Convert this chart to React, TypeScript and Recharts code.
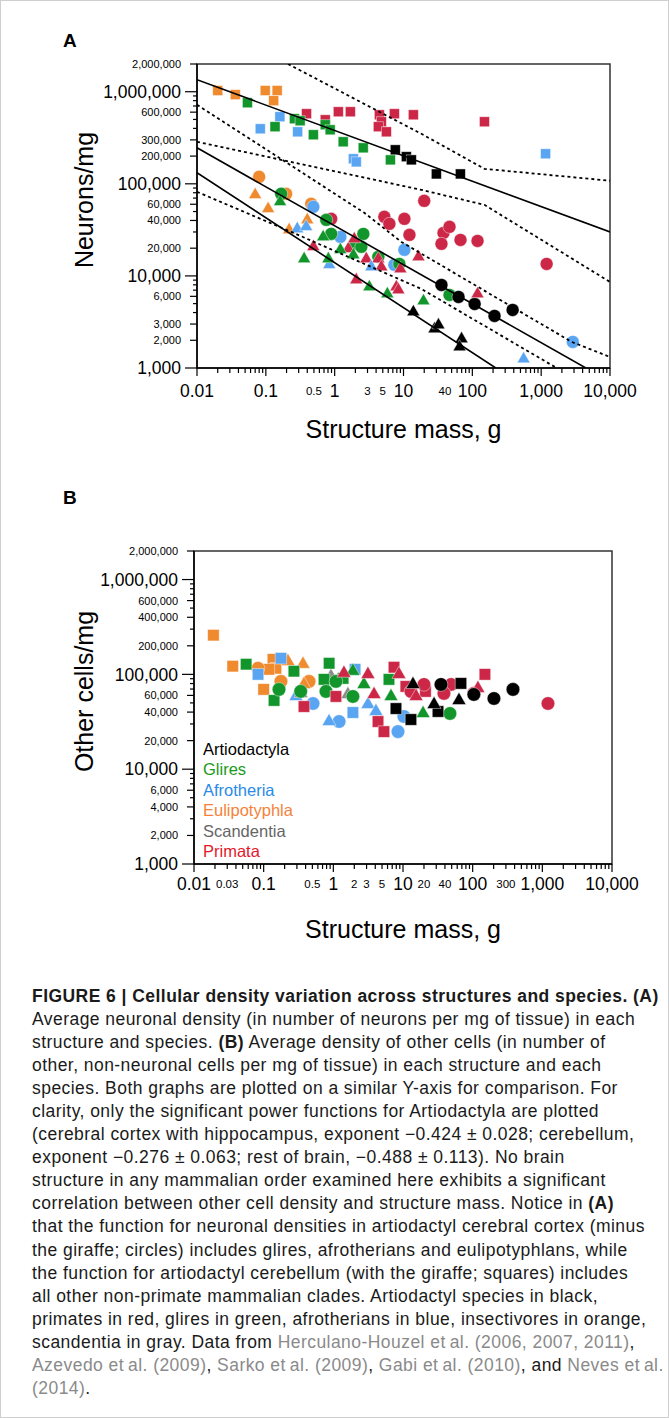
import React from 'react';
import { ScatterChart, Scatter, XAxis, YAxis, ReferenceArea, Legend } from 'recharts';

type Pt = [number, number];

// ---------- Panel A: neurons per mg against structure mass (g) ----------
// squares = cerebellum, circles = cerebral cortex, triangles = rest of brain
const aCerebellumArtiodactyla: Pt[] = [[7.6, 234000], [11, 197000], [13, 182000], [30, 128000], [67, 128000]];
const aCerebellumGlires: Pt[] = [[0.054, 759000], [0.136, 417000], [0.26, 509000], [0.315, 484000], [0.49, 341000], [0.73, 438000], [0.86, 386000], [1.33, 286000], [2.6, 246000], [6.45, 182000]];
const aCerebellumAfrotheria: Pt[] = [[0.083, 396000], [0.16, 535000], [0.29, 367000], [1.87, 187000], [2.06, 173000], [1160, 212000]];
const aCerebellumEulipotyphla: Pt[] = [[0.02, 1030000], [0.036, 930000], [0.098, 1030000], [0.146, 1030000], [0.13, 800000]];
const aCerebellumPrimata: Pt[] = [[0.39, 577000], [0.73, 496000], [1.13, 606000], [1.69, 606000], [4.46, 562000], [4.77, 472000], [4.31, 417000], [5.64, 367000], [7.37, 577000], [13.9, 562000], [150, 472000]];

const aCortexArtiodactyla: Pt[] = [[35.6, 7980], [63, 5910], [108, 4960], [210, 3680], [385, 4270]];
const aCortexGlires: Pt[] = [[0.167, 77900], [0.755, 40600], [0.89, 28600], [2.61, 28600], [1.93, 22300], [2.44, 20700], [4.31, 16100], [8.71, 13500], [46.6, 6210]];
const aCortexAfrotheria: Pt[] = [[0.49, 56200], [1.21, 26500], [10.3, 19200], [7.37, 13200], [2880, 1920]];
const aCortexEulipotyphla: Pt[] = [[0.08, 119000], [0.197, 77900], [0.456, 60600]];
const aCortexPrimata: Pt[] = [[0.89, 41700], [5.27, 43800], [6.24, 36800], [10.3, 41700], [12.2, 27900], [20, 65300], [38.1, 29300], [46.6, 34100], [35.6, 22300], [67.3, 24600], [119, 24000], [1200, 13500]];

const aRestArtiodactyla: Pt[] = [[13.9, 4060], [28.2, 2650], [32.2, 2930], [69.7, 2070], [65.2, 1690]];
const aRestGlires: Pt[] = [[0.161, 63700], [0.36, 15300], [0.81, 15300], [1.21, 19200], [1.87, 16900], [3.19, 7590], [5.83, 6370], [0.68, 26500], [19.5, 5350]];
const aRestAfrotheria: Pt[] = [[0.286, 32400], [0.386, 34100], [0.834, 13200], [3.41, 12500], [556, 1250]];
const aRestEulipotyphla: Pt[] = [[0.07, 75900], [0.108, 53500], [0.218, 31600], [0.4, 40600]];
const aRestPrimata: Pt[] = [[0.49, 20700], [2.06, 9050], [2.88, 15300], [4.31, 15300], [4.77, 12500], [7.88, 7590], [8.43, 7050], [9.02, 11900], [16.5, 16100], [1.58, 19700], [1.93, 25200], [119, 6370]];

// Artiodactyla power functions (solid) and their confidence bands (dotted)
const cerebellumFit: Pt[] = [[0.01, 1350000], [10000, 30000]];
const cortexFit: Pt[] = [[0.01, 246000], [4460, 1000]];
const restFit: Pt[] = [[0.01, 132000], [219, 1000]];
const cerebellumUpperBand: Pt[] = [[0.21, 2000000], [18.2, 349000], [150, 145500], [10000, 108000]];
const cerebellumLowerBand: Pt[] = [[0.01, 286000], [18.2, 86000], [150, 59100], [10000, 8600]];
const cortexUpperBand: Pt[] = [[0.01, 722000], [2.7, 48400], [9.3, 23400], [2780, 1920], [10000, 1318]];
const cortexLowerBand: Pt[] = [[0.01, 81800], [0.233, 30100], [18.2, 7220], [1680, 1000]];

// ---------- Panel B: other cells per mg against structure mass (g) ----------
const bCerebellumArtiodactyla: Pt[] = [[7.93, 43600], [67.9, 80300], [13, 33400], [31.8, 40600]];
const bCerebellumGlires: Pt[] = [[0.056, 128000], [0.141, 53100], [0.87, 131000], [1.38, 90700], [0.735, 88500], [6.29, 88500], [0.272, 108000]];
const bCerebellumAfrotheria: Pt[] = [[0.083, 100000], [0.177, 148000], [2.05, 113000], [1.91, 39600]];
const bCerebellumEulipotyphla: Pt[] = [[0.019, 259000], [0.036, 122000], [0.1, 69400], [0.136, 144000], [0.15, 116000], [0.119, 113000]];
const bCerebellumPrimata: Pt[] = [[0.379, 45800], [1.09, 58500], [7.43, 119000], [4.38, 31800], [5.33, 24900], [150, 100000], [11, 74600], [21, 66100]];

const bCortexArtiodactyla: Pt[] = [[35.1, 78300], [104, 61400], [202, 55700], [379, 69400]];
const bCortexGlires: Pt[] = [[0.166, 69400], [0.785, 66100], [1.91, 58500], [47.2, 38700], [0.34, 66100], [1.09, 84300]];
const bCortexAfrotheria: Pt[] = [[0.511, 49300], [1.21, 31800], [8.47, 24900], [10.3, 36000]];
const bCortexEulipotyphla: Pt[] = [[0.083, 116000], [0.177, 84300], [0.448, 84300]];
const bCortexPrimata: Pt[] = [[20, 78300], [48.9, 78300], [38.7, 63000], [104, 63000], [1205, 49300], [13, 66100]];

const bRestArtiodactyla: Pt[] = [[13.9, 78300], [27.9, 48200], [63.6, 53100]];
const bRestGlires: Pt[] = [[1.91, 108000], [2.75, 78300], [6.73, 58500], [19.4, 38700]];
const bRestAfrotheria: Pt[] = [[0.291, 58500], [0.867, 31800], [3.14, 48200], [4.09, 40600]];
const bRestEulipotyphla: Pt[] = [[0.223, 137000], [0.367, 128000], [0.379, 78300]];
const bRestScandentia: Pt[] = [[0.344, 63000], [0.925, 95300], [1.62, 61400]];
const bRestPrimata: Pt[] = [[1.42, 103000], [3.14, 100000], [8.75, 100000], [3.84, 61400], [15.4, 58500], [119, 71100]];

// ---------- axes ----------
const xMajorLabels = [0.01, 0.1, 1, 10, 100, 1000, 10000];
const xMinorLabelsA = [0.5, 3, 5, 40];
const xMinorLabelsB = [0.03, 0.5, 2, 3, 5, 20, 40, 300];
const yMajorLabels = [1000, 10000, 100000, 1000000];
const yMinorLabelsA = [2000, 3000, 6000, 20000, 40000, 60000, 200000, 300000, 600000, 2000000];
const yMinorLabelsB = [2000, 4000, 6000, 20000, 40000, 60000, 200000, 400000, 600000, 2000000];
const multipliers = [1, 2, 3, 4, 5, 6, 7, 8, 9];
const xTicks = [0.01, 0.1, 1, 10, 100, 1000].flatMap((d) => multipliers.map((k) => d * k)).concat([10000]);
const yTicks = [1000, 10000, 100000, 1000000].flatMap((d) => multipliers.map((k) => d * k)).filter((v) => v <= 2000000);

const orderNames = ['Artiodactyla', 'Glires', 'Afrotheria', 'Eulipotyphla', 'Scandentia', 'Primata'];
const orderTextColors = ['#000000', '#1a9a1a', '#2a8be6', '#f5823a', '#666666', '#e3182c'];

const C = { black: '#000000', green: '#12962b', blue: '#5aa5f2', orange: '#ef8a2f', gray: '#8a8a8a', red: '#cc2747' };

const FONT = '"Liberation Sans", Arial, Helvetica, sans-serif';

const toPts = (arr: Pt[]) => arr.map(([x, y]) => ({ x, y }));
const near = (v: number, list: number[]) => list.find((l) => Math.abs(v / l - 1) < 1e-6);
const fmt = (v: number) => v.toLocaleString('en-US', { maximumFractionDigits: 2 });

// ---------- marker shapes ----------
const squareShape = (color: string, s: number) => (p: any) =>
  p.cx == null ? <g /> : (
    <rect x={p.cx - s / 2} y={p.cy - s / 2} width={s} height={s} fill={color} stroke="#fff" strokeOpacity={0.55} strokeWidth={0.8} />
  );
const circleShape = (color: string, r: number) => (p: any) =>
  p.cx == null ? <g /> : <circle cx={p.cx} cy={p.cy} r={r} fill={color} stroke="#fff" strokeOpacity={0.55} strokeWidth={0.8} />;
const triangleShape = (color: string, s: number) => (p: any) => {
  if (p.cx == null) return <g />;
  const h = s * 0.87;
  const pts = `${p.cx},${p.cy - (2 * h) / 3} ${p.cx - s / 2},${p.cy + h / 3} ${p.cx + s / 2},${p.cy + h / 3}`;
  return <polygon points={pts} fill={color} stroke="#fff" strokeOpacity={0.55} strokeWidth={0.8} />;
};
const noShape = () => <g />;

// ---------- ticks ----------
const makeYTick = (minorLabels: number[]) => (props: any) => {
  const { x, y, payload } = props;
  const v = payload.value;
  const major = near(v, yMajorLabels);
  const minor = major === undefined ? near(v, minorLabels) : undefined;
  const lab = major ?? minor;
  const len = major !== undefined ? 12 : minor !== undefined ? 7 : 4;
  return (
    <g>
      <line x1={x} y1={y} x2={x - len} y2={y} stroke="#000" strokeWidth={1.2} />
      {lab !== undefined && (
        <text x={x - 16} y={y} dy="0.36em" textAnchor="end" fontSize={major !== undefined ? 17.5 : 11} fontFamily={FONT} fill="#000">
          {fmt(lab)}
        </text>
      )}
    </g>
  );
};

const makeXTick = (minorLabels: number[], labelGap: number) => (props: any) => {
  const { x, y, payload } = props;
  const v = payload.value;
  const major = near(v, xMajorLabels);
  const minor = major === undefined ? near(v, minorLabels) : undefined;
  const lab = major ?? minor;
  const len = major !== undefined ? 8 : 5;
  return (
    <g>
      <line x1={x} y1={y} x2={x} y2={y + len} stroke="#000" strokeWidth={1.2} />
      {lab !== undefined && (
        <text x={x} y={y + labelGap} dy="0.36em" textAnchor="middle" fontSize={major !== undefined ? 17.5 : 11.5} fontFamily={FONT} fill="#000">
          {fmt(lab)}
        </text>
      )}
    </g>
  );
};

const XTitle = (props: any) => {
  const { viewBox, text, gap } = props;
  return (
    <text x={viewBox.x + viewBox.width / 2} y={viewBox.y + gap} textAnchor="middle" fontSize={25} fontFamily={FONT} fill="#000">
      {text}
    </text>
  );
};
const YTitle = (props: any) => {
  const { viewBox, text, left, shift } = props;
  const cy = viewBox.y + viewBox.height / 2 + shift;
  return (
    <text x={left} y={cy} transform={`rotate(-90, ${left}, ${cy})`} textAnchor="middle" fontSize={25} fontFamily={FONT} fill="#000">
      {text}
    </text>
  );
};

const OrderLegend = () => (
  <div style={{ fontFamily: FONT, fontSize: 16.5, lineHeight: '20.4px', whiteSpace: 'nowrap' }}>
    {orderNames.map((n, i) => (
      <div key={n} style={{ color: orderTextColors[i] }}>{n}</div>
    ))}
  </div>
);

type Series = { data: Pt[]; shape: (p: any) => any };

const seriesA = (): Series[] => [
  { data: aCerebellumPrimata, shape: squareShape(C.red, 10) },
  { data: aCerebellumEulipotyphla, shape: squareShape(C.orange, 10) },
  { data: aCerebellumAfrotheria, shape: squareShape(C.blue, 10) },
  { data: aCerebellumGlires, shape: squareShape(C.green, 10) },
  { data: aCerebellumArtiodactyla, shape: squareShape(C.black, 10) },
  { data: aCortexPrimata, shape: circleShape(C.red, 6.5) },
  { data: aCortexEulipotyphla, shape: circleShape(C.orange, 6.5) },
  { data: aCortexAfrotheria, shape: circleShape(C.blue, 6.5) },
  { data: aCortexGlires, shape: circleShape(C.green, 6.5) },
  { data: aCortexArtiodactyla, shape: circleShape(C.black, 6.5) },
  { data: aRestPrimata, shape: triangleShape(C.red, 13) },
  { data: aRestEulipotyphla, shape: triangleShape(C.orange, 13) },
  { data: aRestAfrotheria, shape: triangleShape(C.blue, 13) },
  { data: aRestGlires, shape: triangleShape(C.green, 13) },
  { data: aRestArtiodactyla, shape: triangleShape(C.black, 13) },
];

const seriesB = (): Series[] => [
  { data: bCerebellumEulipotyphla, shape: squareShape(C.orange, 11.5) },
  { data: bCortexEulipotyphla, shape: circleShape(C.orange, 6.8) },
  { data: bRestEulipotyphla, shape: triangleShape(C.orange, 14) },
  { data: bCerebellumAfrotheria, shape: squareShape(C.blue, 11.5) },
  { data: bCortexAfrotheria, shape: circleShape(C.blue, 6.8) },
  { data: bRestAfrotheria, shape: triangleShape(C.blue, 14) },
  { data: bRestScandentia, shape: triangleShape(C.gray, 14) },
  { data: bCerebellumGlires, shape: squareShape(C.green, 11.5) },
  { data: bCortexGlires, shape: circleShape(C.green, 6.8) },
  { data: bRestGlires, shape: triangleShape(C.green, 14) },
  { data: bCerebellumPrimata, shape: squareShape(C.red, 11.5) },
  { data: bCortexPrimata, shape: circleShape(C.red, 6.8) },
  { data: bRestPrimata, shape: triangleShape(C.red, 14) },
  { data: bCerebellumArtiodactyla, shape: squareShape(C.black, 11.5) },
  { data: bCortexArtiodactyla, shape: circleShape(C.black, 6.8) },
  { data: bRestArtiodactyla, shape: triangleShape(C.black, 14) },
];

const fitLines: { data: Pt[]; dashed: boolean }[] = [
  { data: cerebellumUpperBand, dashed: true },
  { data: cerebellumLowerBand, dashed: true },
  { data: cortexUpperBand, dashed: true },
  { data: cortexLowerBand, dashed: true },
  { data: cerebellumFit, dashed: false },
  { data: cortexFit, dashed: false },
  { data: restFit, dashed: false },
];

type Seg = { t: string; b?: boolean; g?: boolean };
const captionLines: Seg[][] = [
  [{ t: 'FIGURE 6 | Cellular density variation across structures and species. (A)', b: true }],
  [{ t: 'Average neuronal density (in number of neurons per mg of tissue) in each' }],
  [{ t: 'structure and species. ' }, { t: '(B)', b: true }, { t: ' Average density of other cells (in number of' }],
  [{ t: 'other, non-neuronal cells per mg of tissue) in each structure and each' }],
  [{ t: 'species. Both graphs are plotted on a similar Y-axis for comparison. For' }],
  [{ t: 'clarity, only the significant power functions for Artiodactyla are plotted' }],
  [{ t: '(cerebral cortex with hippocampus, exponent \u22120.424 \u00b1 0.028; cerebellum,' }],
  [{ t: 'exponent \u22120.276 \u00b1 0.063; rest of brain, \u22120.488 \u00b1 0.113). No brain' }],
  [{ t: 'structure in any mammalian order examined here exhibits a significant' }],
  [{ t: 'correlation between other cell density and structure mass. Notice in ' }, { t: '(A)', b: true }],
  [{ t: 'that the function for neuronal densities in artiodactyl cerebral cortex (minus' }],
  [{ t: 'the giraffe; circles) includes glires, afrotherians and eulipotyphlans, while' }],
  [{ t: 'the function for artiodactyl cerebellum (with the giraffe; squares) includes' }],
  [{ t: 'all other non-primate mammalian clades. Artiodactyl species in black,' }],
  [{ t: 'primates in red, glires in green, afrotherians in blue, insectivores in orange,' }],
  [{ t: 'scandentia in gray. Data from ' }, { t: 'Herculano-Houzel et\u2009al. (2006, 2007, 2011)', g: true }, { t: ',' }],
  [
    { t: 'Azevedo et\u2009al. (2009)', g: true }, { t: ', ' }, { t: 'Sarko et\u2009al. (2009)', g: true }, { t: ', ' },
    { t: 'Gabi et\u2009al. (2010)', g: true }, { t: ', and ' }, { t: 'Neves et\u2009al.', g: true },
  ],
  [{ t: '(2014)', g: true }, { t: '.' }],
];

const axisLine = { stroke: '#000', strokeWidth: 1.5 };

function Panel(props: {
  series: Series[];
  lines: { data: Pt[]; dashed: boolean }[];
  height: number;
  top: number;
  right: number;
  yAxisWidth: number;
  xAxisHeight: number;
  xMinor: number[];
  yMinor: number[];
  xLabelGap: number;
  xTitleGap: number;
  yTitle: string;
  legend: boolean;
}) {
  const p = props;
  return (
    <ScatterChart width={669} height={p.height} margin={{ top: p.top, right: p.right, bottom: 0, left: 0 }}>
      <XAxis
        type="number"
        dataKey="x"
        scale="log"
        domain={[0.01, 10000]}
        allowDataOverflow
        ticks={xTicks}
        interval={0}
        tickSize={0}
        tickMargin={0}
        tickLine={false}
        axisLine={axisLine}
        height={p.xAxisHeight}
        tick={makeXTick(p.xMinor, p.xLabelGap)}
        label={<XTitle text="Structure mass, g" gap={p.xTitleGap} />}
      />
      <YAxis
        type="number"
        dataKey="y"
        scale="log"
        domain={[1000, 2000000]}
        allowDataOverflow
        ticks={yTicks}
        interval={0}
        tickSize={0}
        tickMargin={0}
        tickLine={false}
        axisLine={axisLine}
        width={p.yAxisWidth}
        tick={makeYTick(p.yMinor)}
        label={<YTitle text={p.yTitle} left={92} shift={-16} />}
      />
      <ReferenceArea x1={0.01} x2={10000} y1={1000} y2={2000000} fill="none" stroke="#333" strokeWidth={1.5} ifOverflow="visible" />
      {p.series.map((s, i) => (
        <Scatter key={`s${i}`} data={toPts(s.data)} shape={s.shape} isAnimationActive={false} legendType="none" />
      ))}
      {p.lines.map((l, i) => (
        <Scatter
          key={`l${i}`}
          data={toPts(l.data)}
          shape={noShape}
          line={l.dashed ? { stroke: '#000', strokeWidth: 1.8, strokeDasharray: '3 3' } : { stroke: '#000', strokeWidth: 1.6 }}
          lineJointType="linear"
          isAnimationActive={false}
          legendType="none"
        />
      ))}
      {p.legend && (
        <Legend
          layout="vertical"
          align="center"
          verticalAlign="middle"
          content={<OrderLegend />}
          wrapperStyle={{ left: 202, top: 238, width: 'auto', height: 'auto' }}
        />
      )}
    </ScatterChart>
  );
}

export default function App() {
  return (
    <div
      style={{
        position: 'absolute',
        left: 0,
        top: 0,
        width: 669,
        height: 1418,
        background: '#fff',
        border: '1px solid #cfcfcf',
        boxSizing: 'border-box',
        fontFamily: FONT,
        overflow: 'hidden',
      }}
    >
      <div style={{ position: 'absolute', left: 0, top: 0 }}>
        <Panel
          series={seriesA()}
          lines={fitLines}
          height={450}
          top={63}
          right={60}
          yAxisWidth={196}
          xAxisHeight={83}
          xMinor={xMinorLabelsA}
          yMinor={yMinorLabelsA}
          xLabelGap={23}
          xTitleGap={70}
          yTitle="Neurons/mg"
          legend={false}
        />
      </div>
      <div style={{ position: 'absolute', left: 0, top: 500 }}>
        <Panel
          series={seriesB()}
          lines={[]}
          height={450}
          top={50}
          right={58}
          yAxisWidth={193}
          xAxisHeight={87}
          xMinor={xMinorLabelsB}
          yMinor={yMinorLabelsB}
          xLabelGap={20}
          xTitleGap={74}
          yTitle="Other cells/mg"
          legend={true}
        />
      </div>
      <div style={{ position: 'absolute', left: 62, top: 28, fontSize: 19, fontWeight: 700, lineHeight: '24px' }}>A</div>
      <div style={{ position: 'absolute', left: 62, top: 485, fontSize: 19, fontWeight: 700, lineHeight: '24px' }}>B</div>
      <div style={{ position: 'absolute', left: 31, top: 983.5, fontSize: 17.5, letterSpacing: 0.45, color: '#1a1a1a' }}>
        {captionLines.map((line, i) => (
          <div key={i} style={{ height: 23.1, lineHeight: '23.1px', whiteSpace: 'nowrap' }}>
            {line.map((s, j) => (
              <span key={j} style={{ fontWeight: s.b ? 700 : 400, color: s.g ? '#8a8a8a' : undefined }}>
                {s.t}
              </span>
            ))}
          </div>
        ))}
      </div>
    </div>
  );
}
